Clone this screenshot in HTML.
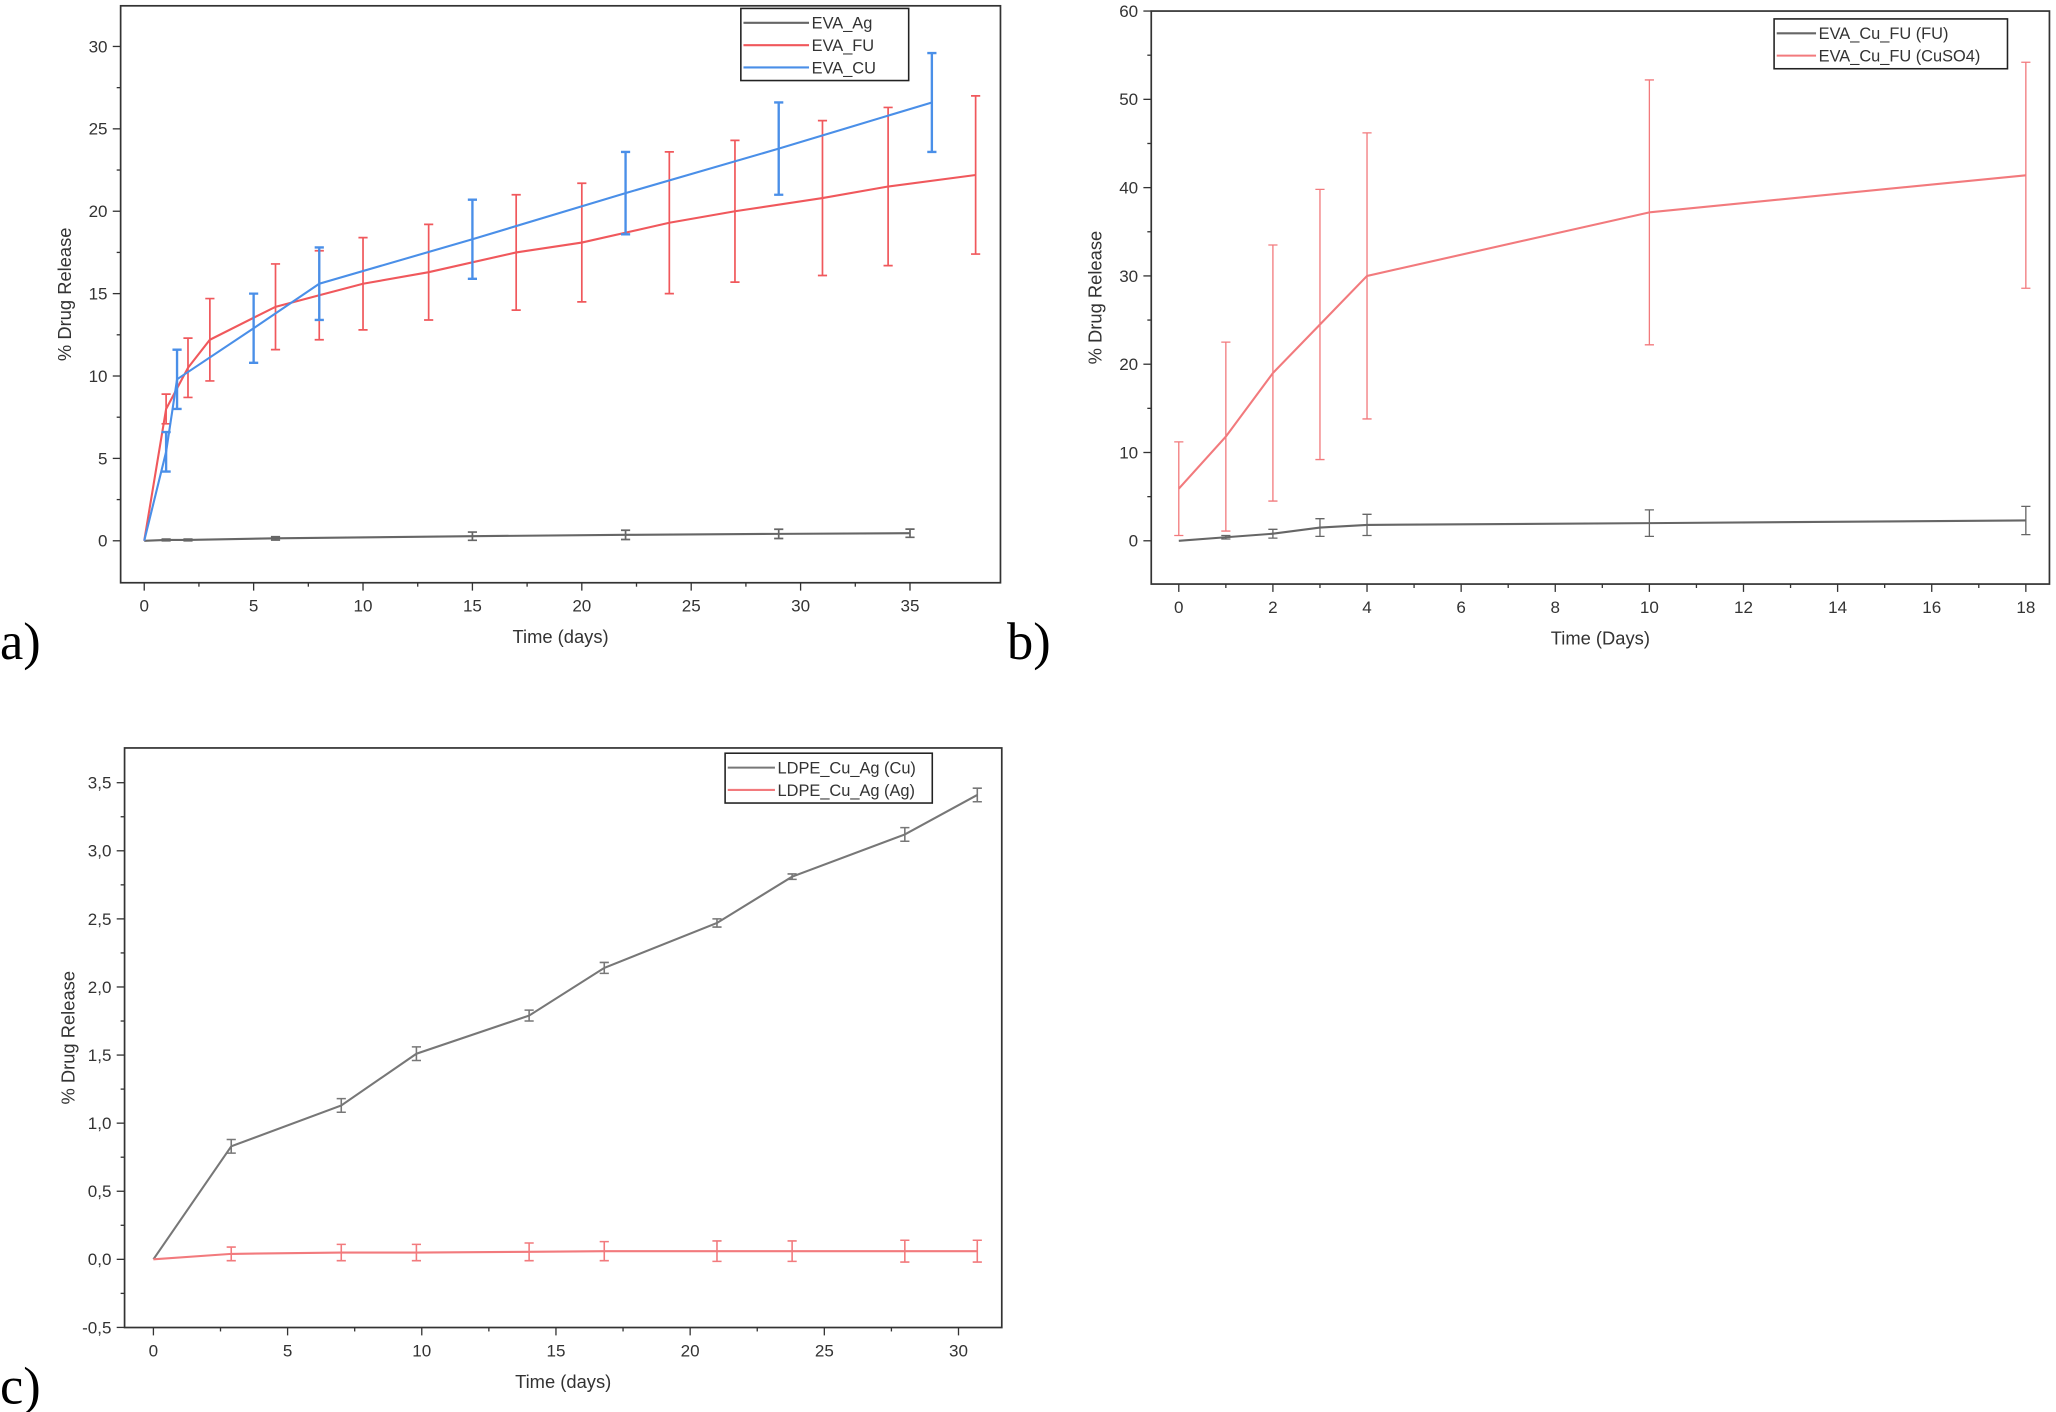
<!DOCTYPE html>
<html><head><meta charset="utf-8">
<style>
html,body{margin:0;padding:0;background:#fff;}
svg{display:block;}
text{font-family:"Liberation Sans",sans-serif;}
text.plab{font-family:"Liberation Serif",serif;}
</style></head>
<body>
<svg id="fig" width="2056" height="1412" viewBox="0 0 1568 1076" xmlns="http://www.w3.org/2000/svg"></svg>
<script>
// ---- Panel a data ----
const aAgX=[0,1,2,6,15,22,29,35];
const aAgY=[0,0.05,0.05,0.15,0.28,0.36,0.42,0.46];
const aAgE=[0,0.05,0.05,0.1,0.25,0.28,0.28,0.25];
const aFuX=[0,1,2,3,6,8,10,13,17,20,24,27,31,34,38];
const aFuY=[0,8,10.5,12.2,14.2,14.9,15.6,16.3,17.5,18.1,19.3,20,20.8,21.5,22.2];
const aFuE=[0,0.9,1.8,2.5,2.6,2.7,2.8,2.9,3.5,3.6,4.3,4.3,4.7,4.8,4.8];
const aCuX=[0,1,1.5,5,8,15,22,29,36];
const aCuY=[0,5.4,9.8,12.9,15.6,18.3,21.1,23.8,26.6];
const aCuE=[0,1.2,1.8,2.1,2.2,2.4,2.5,2.8,3];
const aXTicks=[0,5,10,15,20,25,30,35];
const aYTicks=[0,5,10,15,20,25,30];
// ---- Panel b data ----
const bX=[0,1,2,3,4,10,18];
const bFuY=[0,0.4,0.8,1.5,1.8,2,2.3];
const bFuE=[0,0.2,0.5,1,1.2,1.5,1.6];
const bCuY=[5.9,11.8,19,24.5,30,37.2,41.4];
const bCuE=[5.3,10.7,14.5,15.3,16.2,15,12.8];
const bXTicks=[0,2,4,6,8,10,12,14,16,18];
const bYTicks=[0,10,20,30,40,50,60];
// ---- Panel c data ----
const cX=[0,2.9,7,9.8,14,16.8,21,23.8,28,30.7];
const cCuY=[0,0.83,1.13,1.51,1.79,2.14,2.47,2.81,3.12,3.41];
const cCuE=[0,0.05,0.05,0.05,0.04,0.04,0.03,0.02,0.05,0.05];
const cAgY=[0,0.04,0.05,0.05,0.055,0.06,0.06,0.06,0.06,0.06];
const cAgE=[0,0.05,0.06,0.06,0.065,0.07,0.075,0.075,0.08,0.08];
const cXTicks=[0,5,10,15,20,25,30];
const cYTicks=[-0.5,0,0.5,1,1.5,2,2.5,3,3.5];

const NS="http://www.w3.org/2000/svg";
const fig=document.getElementById('fig');
function mk(tag,attrs,parent){const e=document.createElementNS(NS,tag);for(const k in attrs)e.setAttribute(k,attrs[k]);(parent||fig).appendChild(e);return e;}

function panel(p){
  const g=mk('g',{});
  
  
  const sx=v=>p.x0px+(v-p.xa)*(p.x1px-p.x0px)/(p.xb-p.xa);
  const sy=v=>p.y0px-(v-p.ya)*(p.y0px-p.y1px)/(p.yb-p.ya);
  const box=mk('rect',{x:p.L,y:p.T,width:p.R-p.L,height:p.B-p.T,fill:'none',stroke:'#333','stroke-width':1.3},g);
  
  
  p.xt.forEach((v,i)=>{
    const x=sx(v);
    mk('line',{x1:x,x2:x,y1:p.B,y2:p.B+6,stroke:'#333','stroke-width':1},g);
    if(i<p.xt.length-1){const xm=sx((v+p.xt[i+1])/2);mk('line',{x1:xm,x2:xm,y1:p.B,y2:p.B+3,stroke:'#333','stroke-width':1},g);}
    const t=mk('text',{x:x,y:p.B+22,'font-size':13,'text-anchor':'middle',fill:'#333'},g);
    t.textContent=p.fmtx(v);
    
    
  });
  p.yt.forEach((v,i)=>{
    const y=sy(v);
    mk('line',{x1:p.L-6,x2:p.L,y1:y,y2:y,stroke:'#333','stroke-width':1},g);
    if(i<p.yt.length-1){const ym=sy((v+p.yt[i+1])/2);mk('line',{x1:p.L-3,x2:p.L,y1:ym,y2:ym,stroke:'#333','stroke-width':1},g);}
    const t=mk('text',{x:p.L-10,y:y+4.5,'font-size':13,'text-anchor':'end',fill:'#333'},g);
    t.textContent=p.fmty(v);
    
    
  });
  const xl=mk('text',{x:(p.L+p.R)/2,y:p.B+46,'font-size':14,'text-anchor':'middle',fill:'#333'},g);
  xl.textContent=p.xlabel;
  
  
  const yc=(p.T+p.B)/2;
  const yl=mk('text',{x:p.L-38,y:yc,'font-size':14,'text-anchor':'middle',fill:'#333',transform:`rotate(-90 ${p.L-38} ${yc})`},g);
  yl.textContent='% Drug Release';
  
  
  p.series.forEach(s=>{
    const sg=mk('g',{},g);
    
    
    s.x.forEach((xv,i)=>{
      if(!s.e[i])return;
      const x=sx(xv),y1=sy(s.y[i]-s.e[i]),y2=sy(s.y[i]+s.e[i]);
      mk('path',{d:`M${x},${y1}V${y2}M${x-3.5},${y1}H${x+3.5}M${x-3.5},${y2}H${x+3.5}`,stroke:s.c,'stroke-width':s.ew||1.3,fill:'none'},sg);
    });
    const ln=mk('polyline',{points:s.x.map((xv,i)=>sx(xv)+','+sy(s.y[i])).join(' '),fill:'none',stroke:s.c,'stroke-width':1.6},sg);
    
    
  });
  const lg=mk('g',{},g);
  
  
  mk('rect',{x:p.lg.x,y:p.lg.y,width:p.lg.w,height:p.series.length*17+4,fill:'#fff',stroke:'#222','stroke-width':1.2},lg);
  p.series.forEach((s,i)=>{
    const yy=p.lg.y+11+i*17;
    mk('line',{x1:p.lg.x+2,x2:p.lg.x+p.lg.lw,y1:yy,y2:yy,stroke:s.c,'stroke-width':1.6},lg);
    const t=mk('text',{x:p.lg.x+p.lg.lw+2,y:yy+4.5,'font-size':12.5,fill:'#333'},lg);
    t.textContent=s.label;
    
    
  });
  const pl=mk('text',{x:p.pl[0],y:p.pl[1],'font-size':40,'class':'plab',fill:'#000'},g);
  pl.textContent=p.plabel;
  
  
}
const RED='#f0585c',BLUE='#4a8fe8',GRAY='#666';
const num=v=>String(v);
const comma=v=>v.toFixed(1).replace('.',',');
panel({name:'chart-a',L:92,R:763,T:4,B:444,x0px:110,x1px:694,xa:0,xb:35,y0px:412,y1px:35,ya:0,yb:30,
  xt:aXTicks,yt:aYTicks,fmtx:num,fmty:num,xlabel:'Time (days)',plabel:'a)',pl:[0,502],
  lg:{x:565,y:6,w:128,lw:52},
  series:[{key:'eva-ag',label:'EVA_Ag',x:aAgX,y:aAgY,e:aAgE,c:GRAY},
          {key:'eva-fu',label:'EVA_FU',x:aFuX,y:aFuY,e:aFuE,c:RED},
          {key:'eva-cu',label:'EVA_CU',x:aCuX,y:aCuY,e:aCuE,c:BLUE,ew:1.8}]});
panel({name:'chart-b',L:878,R:1563,T:8,B:445,x0px:899,x1px:1545,xa:0,xb:18,y0px:412,y1px:8,ya:0,yb:60,
  xt:bXTicks,yt:bYTicks,fmtx:num,fmty:num,xlabel:'Time (Days)',plabel:'b)',pl:[768,502],
  lg:{x:1353,y:14,w:178,lw:32},
  series:[{key:'fu',label:'EVA_Cu_FU (FU)',x:bX,y:bFuY,e:bFuE,c:GRAY,ew:1},
          {key:'cuso4',label:'EVA_Cu_FU (CuSO4)',x:bX,y:bCuY,e:bCuE,c:'#f27a7d',ew:1}]});
panel({name:'chart-c',L:95,R:764,T:570,B:1012,x0px:117,x1px:731,xa:0,xb:30,y0px:960,y1px:596.5,ya:0,yb:3.5,
  xt:cXTicks,yt:cYTicks,fmtx:num,fmty:comma,xlabel:'Time (days)',plabel:'c)',pl:[0,1070],
  lg:{x:553,y:574,w:158,lw:38},
  series:[{key:'ldpe-cu',label:'LDPE_Cu_Ag (Cu)',x:cX,y:cCuY,e:cCuE,c:'#777',ew:1.2},
          {key:'ldpe-ag',label:'LDPE_Cu_Ag (Ag)',x:cX,y:cAgY,e:cAgE,c:'#f27a7d',ew:1.2}]});
</script>
</body></html>
